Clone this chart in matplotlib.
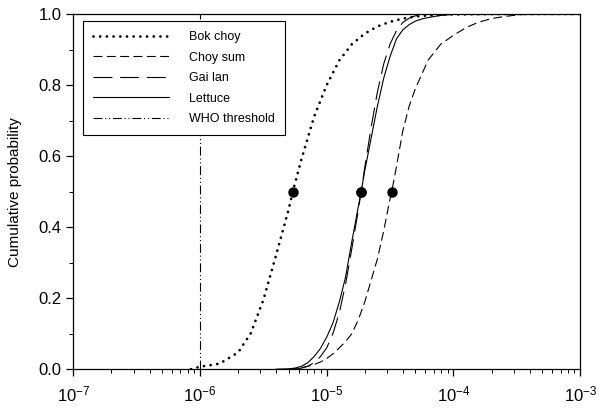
import matplotlib
matplotlib.use('Agg')
import matplotlib.pyplot as plt
from matplotlib.ticker import LogLocator, MultipleLocator, FormatStrFormatter

plt.rcParams['font.family'] = ['Liberation Sans', 'DejaVu Sans']

# values (x on log scale, y cumulative probability)
bok_x = [8.5e-7, 1.0e-6, 1.26e-6, 1.44e-6, 1.58e-6, 2.0e-6, 2.51e-6, 3.16e-6, 3.98e-6, 5.01e-6,
         5.4e-6, 6.31e-6, 7.94e-6, 1.0e-5, 1.26e-5, 1.58e-5, 2.0e-5, 2.51e-5, 3.16e-5, 3.98e-5,
         5.01e-5, 6.31e-5, 1.0e-4, 3.16e-4, 1.0e-3]
bok_y = [0.0, 0.007, 0.012, 0.016, 0.025, 0.047, 0.10, 0.194, 0.32, 0.45,
         0.50, 0.59, 0.71, 0.80, 0.87, 0.915, 0.945, 0.965, 0.978, 0.987,
         0.993, 0.996, 0.999, 1.0, 1.0]

choy_x = [5.01e-6, 5.62e-6, 6.31e-6, 7.08e-6, 7.94e-6, 8.91e-6, 1.0e-5, 1.12e-5, 1.26e-5, 1.41e-5,
          1.58e-5, 1.78e-5, 2.0e-5, 2.51e-5, 2.82e-5, 3.16e-5, 3.26e-5, 3.55e-5, 3.98e-5, 4.47e-5,
          5.01e-5, 6.31e-5, 7.94e-5, 1.0e-4, 1.26e-4, 1.58e-4, 2.0e-4, 2.51e-4, 3.16e-4, 3.98e-4,
          1.0e-3]
choy_y = [0.0, 0.001, 0.004, 0.008, 0.013, 0.02, 0.03, 0.043, 0.06, 0.078,
          0.10, 0.14, 0.19, 0.31, 0.39, 0.48, 0.50, 0.57, 0.67, 0.74,
          0.79, 0.87, 0.915, 0.94, 0.962, 0.977, 0.987, 0.993, 0.997, 1.0,
          1.0]

gai_x = [5.62e-6, 6.31e-6, 7.08e-6, 7.94e-6, 8.91e-6, 1.0e-5, 1.12e-5, 1.26e-5, 1.41e-5, 1.58e-5,
         1.78e-5, 1.87e-5, 2.0e-5, 2.24e-5, 2.51e-5, 2.82e-5, 3.16e-5, 3.55e-5, 3.98e-5, 4.47e-5,
         5.01e-5, 6.31e-5, 1.0e-4, 1.0e-3]
gai_y = [0.0, 0.003, 0.008, 0.018, 0.035, 0.06, 0.10, 0.16, 0.24, 0.34,
         0.45, 0.50, 0.57, 0.68, 0.78, 0.86, 0.915, 0.953, 0.976, 0.988,
         0.995, 0.999, 1.0, 1.0]

let_x = [3.98e-6, 5.01e-6, 5.62e-6, 6.31e-6, 7.08e-6, 7.94e-6, 8.91e-6, 1.0e-5, 1.12e-5, 1.26e-5,
         1.41e-5, 1.58e-5, 1.78e-5, 1.87e-5, 2.0e-5, 2.24e-5, 2.51e-5, 2.82e-5, 3.16e-5, 3.55e-5,
         3.98e-5, 4.47e-5, 5.01e-5, 5.62e-5, 6.31e-5, 7.94e-5, 1.0e-4, 1.58e-4, 1.0e-3]
let_y = [0.0, 0.001, 0.003, 0.008, 0.018, 0.035, 0.058, 0.09, 0.13, 0.19,
         0.26, 0.36, 0.46, 0.50, 0.56, 0.65, 0.74, 0.82, 0.88, 0.93,
         0.955, 0.97, 0.98, 0.986, 0.99, 0.996, 0.999, 1.0, 1.0]

who_x = [1.0e-6, 1.0e-6]
who_y = [0.0, 1.0]

median_x = [5.4e-6, 3.26e-5, 1.87e-5, 1.87e-5]
median_y = [0.5, 0.5, 0.5, 0.5]

fig = plt.figure(figsize=(6.0, 4.12), dpi=100)
ax = fig.add_axes([0.122, 0.104, 0.845, 0.862])

ax.plot(bok_x, bok_y, color='black', lw=2.0, linestyle=(0, (0.01, 2.4)),
        dash_capstyle='round', label='Bok choy')
ax.plot(choy_x, choy_y, color='black', lw=0.8, linestyle=(0, (8, 4)), label='Choy sum')
ax.plot(gai_x, gai_y, color='black', lw=0.8, linestyle=(0, (17, 7)), label='Gai lan')
ax.plot(let_x, let_y, color='black', lw=0.8, linestyle='-', label='Lettuce')
ax.plot(who_x, who_y, color='black', lw=0.8, linestyle=(0, (8, 2.5, 1, 2.5, 1, 2.5)),
        label='WHO threshold')
ax.plot(median_x, median_y, 'o', color='black', markersize=6.5, zorder=5)

ax.set_xscale('log')
ax.set_xlim(1e-7, 1e-3)
ax.set_ylim(0, 1)
ax.xaxis.set_major_locator(LogLocator(base=10, numticks=10))
ax.xaxis.set_minor_locator(LogLocator(base=10, subs=range(2, 10), numticks=20))
ax.yaxis.set_major_locator(MultipleLocator(0.2))
ax.yaxis.set_minor_locator(MultipleLocator(0.1))
ax.yaxis.set_major_formatter(FormatStrFormatter('%.1f'))
ax.tick_params(which='major', direction='out', length=5, width=0.9, labelsize=12, color='black')
ax.tick_params(which='minor', direction='out', length=3, width=0.7, color='black')
ax.tick_params(axis='x', which='major', pad=6)
ax.set_ylabel('Cumulative probability', fontsize=11, labelpad=12)
for s in ax.spines.values():
    s.set_linewidth(0.9)

leg = ax.legend(loc='upper left', bbox_to_anchor=(0.0186, 0.98), borderaxespad=0,
                fontsize=9, handlelength=6.1, handletextpad=1.6, labelspacing=0.68,
                borderpad=0.8, fancybox=False, framealpha=1, edgecolor='black')
leg.get_frame().set_linewidth(0.8)

plt.savefig('out.png', dpi=100)
